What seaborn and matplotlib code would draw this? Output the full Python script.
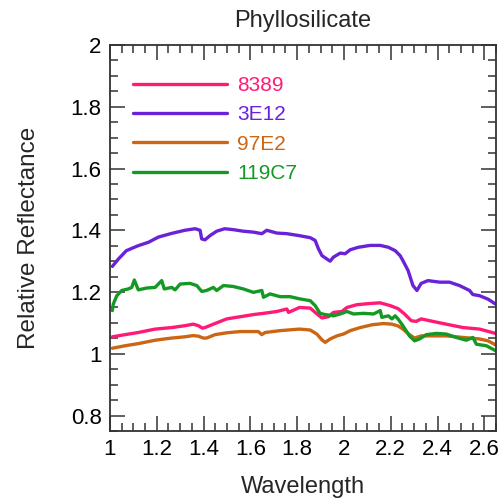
import numpy as np
import pandas as pd
import matplotlib
matplotlib.use("Agg")
import matplotlib.pyplot as plt
import seaborn as sns
from matplotlib.ticker import MultipleLocator, FuncFormatter

names = ["8389", "3E12", "97E2", "119C7"]
colors = ["#FF1A75", "#6A22D8", "#CC6613", "#149A24"]

x_3E12 = [1.01, 1.036, 1.07, 1.12, 1.164, 1.207, 1.264, 1.32, 1.364, 1.385, 1.392, 1.406, 1.428, 1.456,
          1.49, 1.527, 1.57, 1.613, 1.649, 1.67, 1.713, 1.756, 1.806, 1.856, 1.877, 1.891, 1.906, 1.927,
          1.941, 1.955, 1.984, 2.005, 2.027, 2.062, 2.112, 2.155, 2.19, 2.219, 2.24, 2.252, 2.274, 2.295,
          2.312, 2.33, 2.359, 2.409, 2.451, 2.494, 2.537, 2.551, 2.58, 2.616, 2.648]
y_3E12 = [1.283, 1.307, 1.334, 1.35, 1.361, 1.378, 1.39, 1.40, 1.405, 1.40, 1.372, 1.369, 1.383, 1.397,
          1.405, 1.402, 1.397, 1.394, 1.389, 1.40, 1.391, 1.389, 1.383, 1.376, 1.367, 1.34, 1.318, 1.307,
          1.30, 1.313, 1.326, 1.324, 1.337, 1.345, 1.351, 1.351, 1.345, 1.334, 1.318, 1.302, 1.27, 1.221,
          1.205, 1.228, 1.237, 1.232, 1.232, 1.221, 1.205, 1.192, 1.188, 1.177, 1.161]

x_119C7 = [1.01, 1.014, 1.029, 1.05, 1.078, 1.093, 1.104, 1.121, 1.157, 1.193, 1.221, 1.232, 1.264, 1.278,
           1.30, 1.342, 1.371, 1.392, 1.413, 1.442, 1.456, 1.485, 1.527, 1.57, 1.613, 1.649, 1.656, 1.684,
           1.727, 1.77, 1.81, 1.856, 1.877, 1.898, 1.92, 1.955, 1.984, 2.013, 2.041, 2.084, 2.127, 2.155,
           2.162, 2.19, 2.205, 2.219, 2.232, 2.252, 2.28, 2.302, 2.323, 2.352, 2.395, 2.437, 2.48, 2.523,
           2.551, 2.566, 2.609, 2.648]
y_119C7 = [1.14, 1.161, 1.188, 1.205, 1.21, 1.215, 1.239, 1.207, 1.213, 1.215, 1.237, 1.21, 1.215, 1.207,
           1.226, 1.228, 1.221, 1.202, 1.205, 1.215, 1.205, 1.221, 1.218, 1.21, 1.199, 1.205, 1.183, 1.194,
           1.185, 1.185, 1.178, 1.172, 1.156, 1.131, 1.127, 1.123, 1.129, 1.137, 1.129, 1.131, 1.129, 1.14,
           1.118, 1.123, 1.113, 1.123, 1.112, 1.091, 1.058, 1.042, 1.048, 1.062, 1.066, 1.064, 1.053, 1.044,
           1.053, 1.031, 1.026, 1.01]

x_8389 = [1.01, 1.064, 1.121, 1.193, 1.264, 1.32, 1.356, 1.378, 1.395, 1.406, 1.442, 1.499, 1.556, 1.613,
          1.656, 1.713, 1.756, 1.763, 1.81, 1.856, 1.877, 1.906, 1.934, 1.955, 1.991, 2.013, 2.055, 2.112,
          2.155, 2.198, 2.232, 2.259, 2.288, 2.309, 2.33, 2.38, 2.437, 2.509, 2.58, 2.648]
y_8389 = [1.055, 1.062, 1.069, 1.08, 1.085, 1.091, 1.096, 1.091, 1.083, 1.085, 1.096, 1.113, 1.12, 1.127,
          1.131, 1.137, 1.145, 1.134, 1.15, 1.148, 1.134, 1.116, 1.12, 1.134, 1.137, 1.15, 1.159, 1.163,
          1.165, 1.156, 1.146, 1.129, 1.107, 1.105, 1.113, 1.105, 1.096, 1.085, 1.08, 1.066]

x_97E2 = [1.01, 1.064, 1.121, 1.193, 1.264, 1.32, 1.356, 1.378, 1.399, 1.413, 1.449, 1.499, 1.556, 1.634,
          1.649, 1.663, 1.727, 1.81, 1.856, 1.884, 1.906, 1.92, 1.941, 1.97, 1.998, 2.027, 2.07, 2.12,
          2.169, 2.205, 2.232, 2.252, 2.28, 2.302, 2.33, 2.366, 2.437, 2.509, 2.58, 2.616, 2.648]
y_97E2 = [1.018, 1.026, 1.033, 1.044, 1.051, 1.055, 1.059, 1.057, 1.051, 1.051, 1.062, 1.068, 1.072, 1.072,
          1.062, 1.069, 1.075, 1.08, 1.077, 1.064, 1.045, 1.037, 1.048, 1.058, 1.064, 1.075, 1.085, 1.094,
          1.098, 1.096, 1.09, 1.08, 1.062, 1.051, 1.058, 1.058, 1.058, 1.053, 1.048, 1.042, 1.029]

series = {"8389": (x_8389, y_8389), "3E12": (x_3E12, y_3E12),
          "97E2": (x_97E2, y_97E2), "119C7": (x_119C7, y_119C7)}

frames = []
for n in names:
    xs, ys = series[n]
    frames.append(pd.DataFrame({"Wavelength": xs, "Reflectance": ys, "Sample": n}))
df = pd.concat(frames, ignore_index=True)

sns.set_style("ticks")
plt.rcParams["font.family"] = ["Liberation Sans", "DejaVu Sans"]

fig = plt.figure(figsize=(5.02, 4.98), dpi=100)
ax = fig.add_axes([110 / 502, 1 - 431 / 498, 386 / 502, 386 / 498])

sns.lineplot(data=df, x="Wavelength", y="Reflectance", hue="Sample", hue_order=names,
             palette=dict(zip(names, colors)), sort=False, estimator=None,
             linewidth=2.4, ax=ax, legend=True)

ax.set_xlim(1, 2.65)
ax.set_ylim(0.75, 2.0)
ax.xaxis.set_major_locator(MultipleLocator(0.2))
ax.xaxis.set_minor_locator(MultipleLocator(0.05))
ax.yaxis.set_major_locator(MultipleLocator(0.2))
ax.yaxis.set_minor_locator(MultipleLocator(0.05))
ax.xaxis.set_major_formatter(FuncFormatter(lambda v, p: f"{v:g}"))
ax.yaxis.set_major_formatter(FuncFormatter(lambda v, p: f"{v:g}"))

for s in ax.spines.values():
    s.set_linewidth(1.3)
    s.set_color("#333333")
ax.tick_params(which="both", direction="in", top=True, right=True, color="#333333", width=1.1,
               labelsize=16, colors="#333333", labelcolor="black")
ax.tick_params(which="major", length=11, pad=6)
ax.tick_params(which="minor", length=5.5)

ax.set_xlabel("Wavelength", fontsize=17, labelpad=11)
ax.set_ylabel("Relative Reflectance", fontsize=17.5, labelpad=22)
ax.set_title("Phyllosilicate", fontsize=17, pad=13)

leg = ax.legend(loc="upper left", bbox_to_anchor=(0.06, 0.92), frameon=False, fontsize=15,
                handlelength=4.5, handletextpad=0.5, labelspacing=0.5, borderpad=0, borderaxespad=0)
for line, text, c in zip(leg.get_lines(), leg.get_texts(), colors):
    line.set_linewidth(2.4)
    text.set_color(c)

fig.savefig("out.png", dpi=100)
